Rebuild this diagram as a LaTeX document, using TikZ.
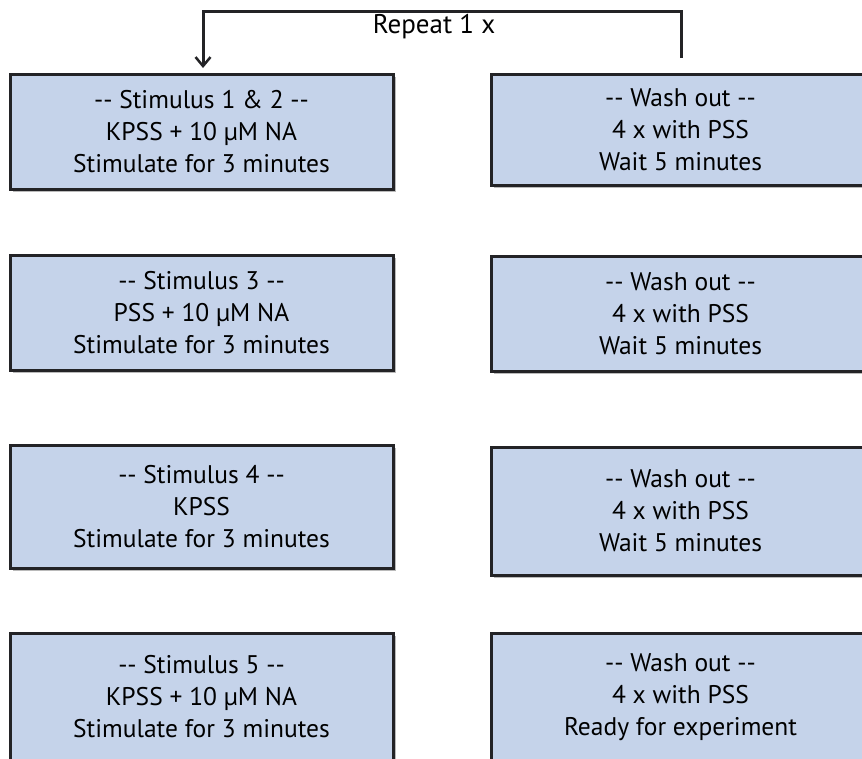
\documentclass[tikz,border=0pt]{standalone}
\usepackage{fontspec}
\setmainfont{PT Sans}
\usetikzlibrary{arrows.meta,shadows}
\definecolor{boxblue}{RGB}{197,211,234}
\definecolor{edgegray}{RGB}{35,35,38}
\tikzset{
    stepbox/.style={draw=edgegray, line width=3pt, fill=boxblue, align=center,
        font=\fontsize{25.5}{32}\selectfont, inner sep=0pt,
        drop shadow={shadow xshift=3pt, shadow yshift=-3pt, fill=black!45, opacity=0.6}},
    loopline/.style={draw=edgegray, line width=3pt}
}
\begin{document}
\begin{tikzpicture}[x=1pt, y=-1pt]
        \useasboundingbox (0,0) rectangle (862,758);
        \clip (0,0) rectangle (862,758);
        % stimulus column
        \node[stepbox, minimum width=383pt, minimum height=115pt] (stim1) at (201.5,131.5)
            {-{}- Stimulus 1 \& 2 -{}-\\ KPSS + 10 µM NA\\ Stimulate for 3 minutes};
        \node[stepbox, minimum width=383pt, minimum height=115pt] (stim3) at (201.5,312.5)
            {-{}- Stimulus 3 -{}-\\ PSS + 10 µM NA\\ Stimulate for 3 minutes};
        \node[stepbox, minimum width=383pt, minimum height=123pt] (stim4) at (201.5,506.5)
            {-{}- Stimulus 4 -{}-\\ KPSS\\ Stimulate for 3 minutes};
        \node[stepbox, minimum width=383pt, minimum height=128pt] (stim5) at (201.5,697)
            {-{}- Stimulus 5 -{}-\\ KPSS + 10 µM NA\\ Stimulate for 3 minutes};
        % wash out column
        \node[stepbox, minimum width=379pt, minimum height=111pt] (wash1) at (680.5,129.5)
            {-{}- Wash out -{}-\\ 4 x with PSS\\ Wait 5 minutes};
        \node[stepbox, minimum width=379pt, minimum height=115pt] (wash3) at (680.5,313.5)
            {-{}- Wash out -{}-\\ 4 x with PSS\\ Wait 5 minutes};
        \node[stepbox, minimum width=379pt, minimum height=128pt] (wash4) at (680.5,511)
            {-{}- Wash out -{}-\\ 4 x with PSS\\ Wait 5 minutes};
        \node[stepbox, minimum width=379pt, minimum height=128pt] (wash5) at (680.5,697)
            {-{}- Wash out -{}-\\ 4 x with PSS\\ Ready for experiment};
        % repeat loop
        \node[font=\fontsize{27}{30}\selectfont, inner sep=0pt] (repeat) at (434,27) {Repeat 1 x};
        \coordinate (loopstart) at (681,58);
        \coordinate (loopend) at (203,68);
        \draw[loopline, -{Straight Barb[length=9pt, width=15pt, line width=2.5pt]}]
            (loopstart) -- (loopstart |- 0,11) -| (loopend);
\end{tikzpicture}
\end{document}
